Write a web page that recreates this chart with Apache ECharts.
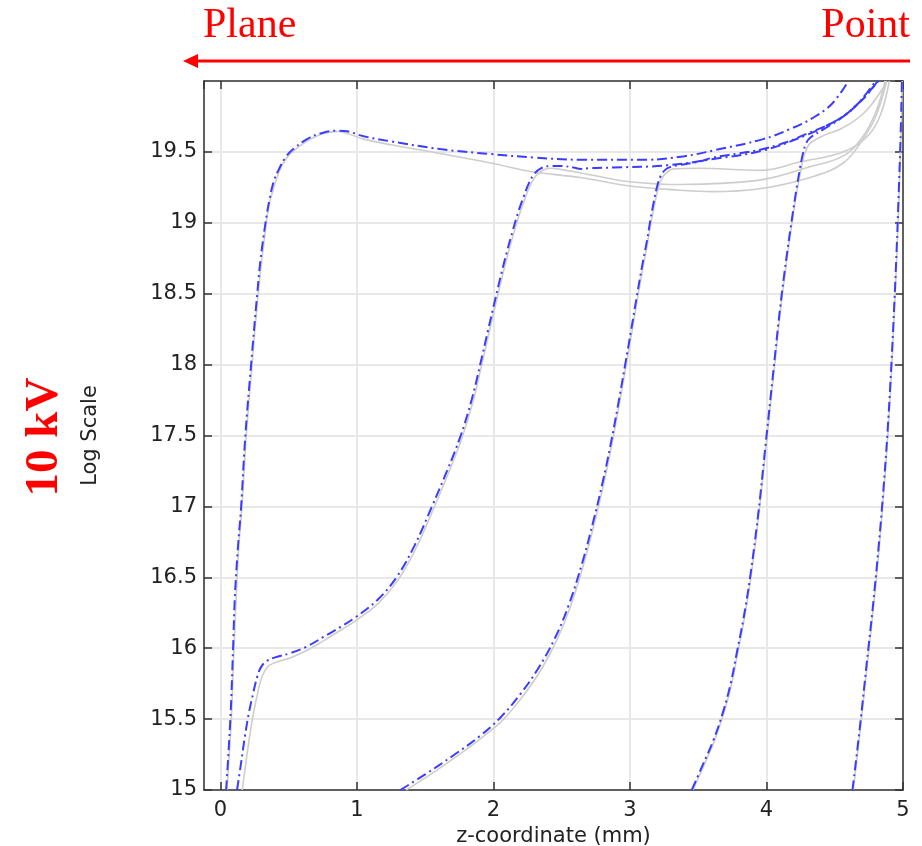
<!DOCTYPE html>
<html>
<head>
<meta charset="utf-8">
<script src="https://cdn.jsdelivr.net/npm/echarts@6/dist/echarts.min.js"></script>
<style>
html,body{margin:0;padding:0;background:#fff;overflow:hidden;}
#chart{width:922px;height:846px;}
</style>
</head>
<body>
<div id="chart"></div>
<script>
// ---- data (z-coordinate in mm, log scale value) ----
const xTicks = [0, 1, 2, 3, 4, 5];
const yTicks = [15, 15.5, 16, 16.5, 17, 17.5, 18, 18.5, 19, 19.5];

const frontA = [[0.042,15.0],[0.073,15.5],[0.093,16.0],[0.105,16.34],[0.127,16.69],[0.152,17.0],[0.183,17.5],[0.225,18.0],[0.269,18.49],[0.293,18.73],[0.329,18.99],[0.359,19.16],[0.39,19.29],[0.425,19.37],[0.476,19.46],[0.534,19.52],[0.635,19.59],[0.732,19.63],[0.854,19.65],[0.928,19.645],[1.05,19.61],[1.245,19.575],[1.61,19.52],[1.977,19.485],[2.3,19.46],[2.635,19.445],[3.124,19.445],[3.4,19.47],[3.61,19.51],[3.975,19.59],[4.17,19.66],[4.34,19.74],[4.48,19.84],[4.6,20.0]];
const frontB = [[0.122,15.0],[0.15,15.18],[0.18,15.38],[0.21,15.55],[0.24,15.68],[0.27,15.8],[0.3,15.87],[0.34,15.91],[0.4,15.935],[0.512,15.965],[0.63,16.01],[0.756,16.08],[0.88,16.15],[0.993,16.22],[1.15,16.34],[1.29,16.5],[1.42,16.72],[1.55,17.0],[1.66,17.25],[1.757,17.49],[1.84,17.75],[1.903,18.0],[1.96,18.24],[2.013,18.46],[2.06,18.65],[2.1,18.8],[2.14,18.94],[2.18,19.07],[2.22,19.18],[2.26,19.28],[2.3,19.345],[2.35,19.385],[2.416,19.40],[2.5,19.4],[2.587,19.39],[2.64,19.38],[2.7,19.385],[2.88,19.39],[3.27,19.405],[3.61,19.45],[3.975,19.51],[4.296,19.62],[4.45,19.69],[4.563,19.75],[4.66,19.83],[4.734,19.9],[4.815,20.0]];
const frontC = [[1.318,15.0],[1.5,15.11],[1.7,15.24],[1.9,15.38],[2.05,15.51],[2.2,15.68],[2.33,15.86],[2.45,16.07],[2.55,16.3],[2.65,16.6],[2.733,16.9],[2.8,17.17],[2.855,17.42],[2.91,17.7],[2.965,18.0],[3.01,18.25],[3.05,18.48],[3.09,18.7],[3.124,18.87],[3.15,19.02],[3.175,19.15],[3.2,19.26],[3.225,19.33],[3.26,19.375],[3.3,19.395],[3.343,19.405],[3.5,19.43],[3.61,19.46],[3.8,19.49],[3.975,19.52],[4.15,19.57],[4.3,19.63],[4.45,19.69],[4.56,19.75],[4.65,19.82],[4.73,19.91],[4.8,20.0]];
const frontD = [[3.453,15.0],[3.53,15.17],[3.611,15.35],[3.685,15.56],[3.74,15.76],[3.783,15.97],[3.83,16.2],[3.88,16.5],[3.94,16.95],[3.995,17.45],[4.05,17.95],[4.1,18.4],[4.15,18.78],[4.19,19.05],[4.22,19.24],[4.245,19.38],[4.265,19.48],[4.29,19.56],[4.32,19.6],[4.42,19.66],[4.563,19.75],[4.7,19.87],[4.82,20.0]];
const frontE = [[4.63,15.0],[4.685,15.45],[4.735,15.9],[4.78,16.3],[4.82,16.7],[4.855,17.1],[4.885,17.5],[4.912,17.95],[4.935,18.4],[4.955,18.85],[4.97,19.25],[4.982,19.6],[4.992,20.0]];

const refA = [[0.048,15.0],[0.08,15.5],[0.1,16.0],[0.133,16.69],[0.158,17.0],[0.19,17.5],[0.232,18.0],[0.276,18.49],[0.335,18.99],[0.365,19.16],[0.43,19.36],[0.48,19.45],[0.54,19.51],[0.64,19.58],[0.74,19.625],[0.86,19.645],[0.93,19.63],[1.05,19.59],[1.25,19.55],[1.6,19.49],[1.99,19.42],[2.28,19.36],[2.635,19.32],[3.0,19.26],[3.37,19.23],[3.6,19.22],[3.95,19.24],[4.32,19.32],[4.56,19.42],[4.7,19.58],[4.8,19.75],[4.88,20.0]];
const refB = [[0.16,15.0],[0.185,15.18],[0.213,15.37],[0.24,15.53],[0.268,15.66],[0.295,15.77],[0.325,15.84],[0.36,15.88],[0.42,15.905],[0.52,15.935],[0.635,15.985],[0.76,16.055],[0.885,16.13],[1.0,16.2],[1.16,16.32],[1.3,16.48],[1.43,16.7],[1.56,16.98],[1.668,17.23],[1.765,17.47],[1.848,17.73],[1.91,17.98],[1.967,18.22],[2.02,18.44],[2.067,18.63],[2.107,18.78],[2.147,18.92],[2.187,19.05],[2.227,19.16],[2.267,19.26],[2.31,19.33],[2.36,19.37],[2.42,19.385],[2.5,19.375],[2.59,19.36],[2.757,19.33],[3.0,19.29],[3.37,19.27],[3.7,19.28],[4.0,19.31],[4.3,19.39],[4.56,19.47],[4.7,19.6],[4.8,19.78],[4.87,20.0]];
const refC = [[1.36,15.0],[1.54,15.11],[1.735,15.24],[1.93,15.38],[2.075,15.5],[2.222,15.67],[2.35,15.85],[2.466,16.06],[2.563,16.29],[2.66,16.59],[2.742,16.89],[2.808,17.16],[2.862,17.41],[2.916,17.69],[2.971,17.99],[3.016,18.24],[3.056,18.47],[3.096,18.69],[3.13,18.86],[3.156,19.01],[3.181,19.13],[3.206,19.24],[3.232,19.31],[3.27,19.355],[3.32,19.38],[3.5,19.385],[3.95,19.37],[4.25,19.43],[4.56,19.5],[4.73,19.6],[4.83,19.75],[4.9,20.0]];
const refD = [[3.462,15.0],[3.54,15.17],[3.62,15.35],[3.693,15.56],[3.748,15.76],[3.79,15.97],[3.836,16.2],[3.886,16.5],[3.945,16.95],[4.0,17.45],[4.055,17.95],[4.105,18.4],[4.155,18.78],[4.195,19.05],[4.226,19.24],[4.252,19.37],[4.272,19.46],[4.298,19.53],[4.33,19.57],[4.43,19.62],[4.56,19.67],[4.72,19.78],[4.86,19.96],[4.87,20.0]];
const refE = [[4.636,15.0],[4.69,15.45],[4.74,15.9],[4.785,16.3],[4.825,16.7],[4.859,17.1],[4.889,17.5],[4.916,17.95],[4.938,18.4],[4.958,18.85],[4.973,19.25],[4.985,19.6],[4.995,20.0]];

const frontSeries = [frontA, frontB, frontC, frontD, frontE];
const refSeries = [refA, refB, refC, refD, refE];

// ---- styling ----
const sans = 'DejaVu Sans';
const axisColor = '#333';
const blue = '#3c3cff';
const grey = '#cdcdcd';

const chart = echarts.init(document.getElementById('chart'), null, {renderer: 'canvas'});

const series = [];
refSeries.forEach(d => series.push({
  type: 'line', data: d, symbol: 'none', smooth: 0.4,
  lineStyle: {color: grey, width: 1.6}, z: 2, silent: true
}));
frontSeries.forEach(d => series.push({
  type: 'line', data: d, symbol: 'none', smooth: 0.4,
  lineStyle: {color: blue, width: 2, type: [10, 4, 2, 4]}, z: 3, silent: true
}));

const xCommon = {
  type: 'value', min: -0.12, max: 5, splitNumber: 5,
  axisLine: {show: true, onZero: false, lineStyle: {color: axisColor, width: 1.5}},
  axisTick: {show: true, inside: true, length: 8, lineStyle: {color: axisColor, width: 1.5}},
};
const yCommon = {
  type: 'value', min: 15, max: 20, interval: 0.5,
  axisLine: {show: true, onZero: false, lineStyle: {color: axisColor, width: 1.5}},
  axisTick: {show: true, inside: true, length: 8, lineStyle: {color: axisColor, width: 1.5}},
};

chart.setOption({
  animation: false,
  backgroundColor: '#fff',
  grid: {left: 204, right: 19, top: 81, bottom: 56, containLabel: false, outerBoundsMode: 'none'},
  xAxis: [
    Object.assign({}, xCommon, {
      position: 'bottom',
      name: 'z-coordinate (mm)', nameLocation: 'middle', nameGap: 31,
      nameTextStyle: {fontFamily: sans, fontSize: 21, color: '#222'},
      axisLabel: {show: true, showMinLabel: false, fontFamily: sans, fontSize: 21, color: '#222', margin: 10,
        formatter: v => (xTicks.indexOf(Math.round(v * 1000) / 1000) >= 0 ? String(v) : '')},
      splitLine: {show: true, lineStyle: {color: '#e8e8e8', width: 2}}
    }),
    Object.assign({}, xCommon, {
      position: 'top', axisLabel: {show: false}, splitLine: {show: false}
    })
  ],
  yAxis: [
    Object.assign({}, yCommon, {
      position: 'left',
      name: 'Log Scale', nameLocation: 'middle', nameGap: 103,
      nameTextStyle: {fontFamily: sans, fontSize: 21, color: '#222'},
      axisLabel: {show: true, showMaxLabel: false, fontFamily: sans, fontSize: 21, color: '#222', margin: 7,
        formatter: v => (yTicks.indexOf(v) >= 0 ? String(v) : '')},
      splitLine: {show: true, lineStyle: {color: '#e8e8e8', width: 2}}
    }),
    Object.assign({}, yCommon, {
      position: 'right', axisLabel: {show: false}, splitLine: {show: false}
    })
  ],
  series: series,
  graphic: [
    {type: 'text', left: 203, top: 5, style: {text: 'Plane', fill: '#ff0000', font: '42px "Liberation Serif"'}},
    {type: 'text', right: 12, top: 5, style: {text: 'Point', fill: '#ff0000', font: '42px "Liberation Serif"'}},
    {type: 'line', shape: {x1: 910, y1: 61, x2: 194, y2: 61}, style: {stroke: '#ff0000', lineWidth: 3}},
    {type: 'polygon', shape: {points: [[183, 61], [198, 54], [198, 68]]}, style: {fill: '#ff0000'}},
    {type: 'text', x: 45, y: 437, rotation: Math.PI / 2,
      style: {text: '10 kV', fill: '#ff0000', font: 'bold 47px "Liberation Serif"', align: 'center', verticalAlign: 'middle'}}
  ]
});
</script>
</body>
</html>
